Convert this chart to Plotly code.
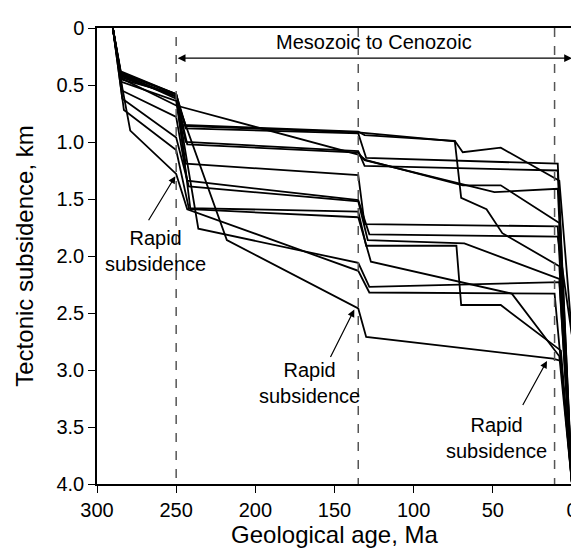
import plotly.graph_objects as go

# subsidence curves: age (Ma) and tectonic subsidence (km)
ages_01 = [290, 285, 250, 246, 135, 131, 74, 69, 45, 8, 0]
depth_01 = [0, 0.38, 0.58, 0.85, 0.91, 0.94, 0.99, 1.09, 1.05, 1.34, 2.7]
ages_02 = [290, 285, 250, 244, 135, 130, 9, 0]
depth_02 = [0, 0.40, 0.58, 0.88, 0.925, 1.14, 1.19, 4.0]
ages_03 = [290, 285, 250, 244, 135, 131, 9, 0]
depth_03 = [0, 0.42, 0.60, 1.00, 1.08, 1.21, 1.25, 4.0]
ages_04 = [290, 285, 250, 135, 130, 69, 45, 8, 0]
depth_04 = [0, 0.44, 0.68, 1.11, 1.16, 1.38, 1.38, 1.71, 4.0]
ages_05 = [290, 285, 250, 244, 135, 74, 70, 54, 44, 8, 0]
depth_05 = [0, 0.39, 0.58, 0.86, 0.915, 0.995, 1.49, 1.59, 1.80, 2.09, 4.0]
ages_06 = [290, 285, 250, 243, 135, 131, 49, 9, 0]
depth_06 = [0, 0.41, 0.60, 1.02, 1.094, 1.16, 1.44, 1.41, 4.0]
ages_07 = [290, 285, 250, 244, 135, 131, 9, 0]
depth_07 = [0, 0.47, 0.64, 1.19, 1.29, 1.72, 1.74, 4.0]
ages_08 = [290, 284, 250, 243, 135, 128, 9, 0]
depth_08 = [0, 0.55, 0.78, 1.34, 1.51, 1.81, 1.83, 2.7]
ages_09 = [290, 284, 250, 242, 135, 129, 68, 8, 0]
depth_09 = [0, 0.62, 0.96, 1.39, 1.52, 1.86, 1.89, 2.2, 4.0]
ages_10 = [290, 285, 283, 250, 242, 135, 130, 73, 70, 45, 7, 0]
depth_10 = [0, 0.50, 0.72, 1.07, 1.58, 1.61, 1.91, 1.91, 2.43, 2.43, 2.83, 4.0]
ages_11 = [290, 285, 250, 241, 135, 127, 38, 8, 0]
depth_11 = [0, 0.45, 0.58, 1.59, 1.66, 2.05, 2.33, 2.88, 4.0]
ages_12 = [290, 285, 250, 236, 135, 128, 8, 0]
depth_12 = [0, 0.43, 0.60, 1.76, 2.06, 2.27, 2.23, 4.0]
ages_13 = [290, 285, 250, 218, 135, 130, 12, 7, 0]
depth_13 = [0, 0.40, 0.62, 1.86, 2.46, 2.71, 2.90, 2.92, 4.0]
ages_14 = [290, 285, 279, 250, 243, 135, 128, 11, 0]
depth_14 = [0, 0.45, 0.90, 1.28, 1.59, 2.13, 2.32, 2.33, 4.0]

curves = [
    (ages_01, depth_01), (ages_02, depth_02), (ages_03, depth_03),
    (ages_04, depth_04), (ages_05, depth_05), (ages_06, depth_06),
    (ages_07, depth_07), (ages_08, depth_08), (ages_09, depth_09),
    (ages_10, depth_10), (ages_11, depth_11), (ages_12, depth_12),
    (ages_13, depth_13), (ages_14, depth_14),
]

event_ages = [250, 135, 11]
y_ticks = [0, 0.5, 1.0, 1.5, 2.0, 2.5, 3.0, 3.5, 4.0]
y_labels = ["0", "0.5", "1.0", "1.5", "2.0", "2.5", "3.0", "3.5", "4.0"]
x_ticks = [300, 250, 200, 150, 100, 50, 0]

FONT = "Liberation Sans, Arial, sans-serif"

fig = go.Figure()

for ages, depth in curves:
    fig.add_trace(
        go.Scatter(
            x=ages, y=depth, mode="lines",
            line=dict(color="black", width=1.8),
            showlegend=False, hoverinfo="skip",
        )
    )

# dashed event lines
for i, a in enumerate(event_ages):
    fig.add_shape(
        type="line", x0=a, x1=a, y0=0.08 if i == 0 else 0, y1=4.0,
        xref="x", yref="y",
        line=dict(color="#555555", width=1.5, dash="dash"),
    )

# Mesozoic to Cenozoic double arrow
fig.add_annotation(
    x=0, y=0.265, ax=250, ay=0.265, xref="x", yref="y", axref="x", ayref="y",
    text="", showarrow=True, arrowhead=2, arrowside="end+start",
    arrowwidth=1.2, arrowsize=1.3, arrowcolor="black",
)
fig.add_annotation(
    x=125, y=0.12, xref="x", yref="y", text="Mesozoic to Cenozoic",
    showarrow=False, font=dict(size=20, color="black", family=FONT),
)

# rapid subsidence labels
labels = [
    (250.5, 1.30, 268, 1.70, 263, 1.96),
    (137.5, 2.47, 153, 2.90, 166, 3.11),
    (15.8, 2.92, 31.6, 3.32, 48, 3.60),
]
for tx, ty, axx, ayy, lx, ly in labels:
    fig.add_annotation(
        x=tx, y=ty, ax=axx, ay=ayy, xref="x", yref="y", axref="x", ayref="y",
        text="", showarrow=True, arrowhead=2, arrowwidth=1.2,
        arrowsize=1.2, arrowcolor="black",
    )
    fig.add_annotation(
        x=lx, y=ly, xref="x", yref="y", text="Rapid<br>subsidence",
        showarrow=False, font=dict(size=20, color="black", family=FONT),
        align="center",
    )

# page body adds ~8px offset, margins compensate
fig.update_layout(
    width=579, height=551,
    margin=dict(l=89, r=13, t=9, b=75),
    plot_bgcolor="white", paper_bgcolor="white",
    font=dict(family=FONT, size=20, color="black"),
)
fig.update_xaxes(
    range=[300, 0], tickvals=x_ticks, showgrid=False, zeroline=False,
    showline=True, linecolor="black", linewidth=1.5, mirror=True,
    ticks="outside", ticklen=7, tickcolor="black", tickwidth=1.2,
    ticklabeloverflow="allow",
    title=dict(text="Geological age, Ma", standoff=6),
)
fig.update_yaxes(
    range=[4.0, 0], tickvals=y_ticks, ticktext=y_labels, showgrid=False,
    zeroline=False, showline=True, linecolor="black", linewidth=1.5,
    mirror=True, ticks="outside", ticklen=7, tickcolor="black", tickwidth=1.2,
    ticklabeloverflow="allow",
    title=dict(text="Tectonic subsidence, km", standoff=16),
)

fig.write_html("out.html")
